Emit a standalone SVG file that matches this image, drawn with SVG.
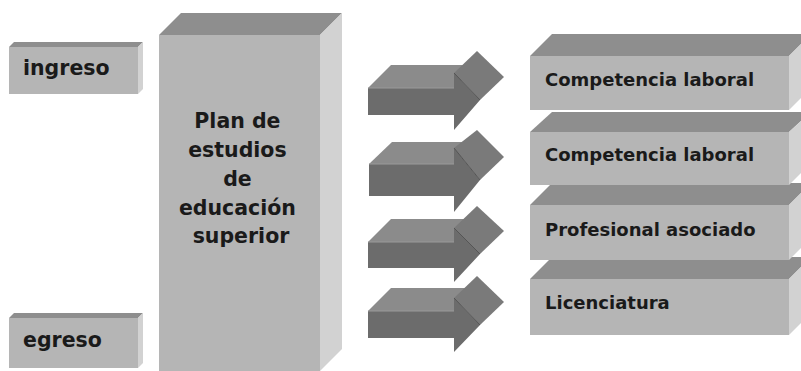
<svg xmlns="http://www.w3.org/2000/svg" width="801" height="371" viewBox="0 0 801 371">
<style>
.front{fill:#b5b5b5}
.top{fill:#8e8e8e}
.side{fill:#d2d2d2}
.afront{fill:#6c6c6c}
.atop{fill:#8b8b8b}
.ahead{fill:#7a7a7a}
.aedge{fill:none;stroke:#555;stroke-width:1}
.hl{fill:none;stroke:#9a9a9a;stroke-width:1.2}
text{font-family:"DejaVu Sans","Liberation Sans",sans-serif;font-weight:bold;fill:#1a1a1a}
.big{font-size:20.5px}
.small{font-size:18px}
</style>
<rect width="801" height="371" fill="#ffffff"/>

<g id="ingreso">
<polygon class="top" points="9,47 14,42 143,42 138,47"/>
<polygon class="side" points="138,47 143,42 143,89 138,94"/>
<rect class="front" x="9" y="47" width="129" height="47"/>
<text class="big" x="23" y="75">ingreso</text>
</g>

<g id="egreso">
<polygon class="top" points="9,318 14,313 143,313 138,318"/>
<polygon class="side" points="138,318 143,313 143,363 138,368"/>
<rect class="front" x="9" y="318" width="129" height="50"/>
<text class="big" x="23" y="347">egreso</text>
</g>

<g id="plan">
<polygon class="top" points="159,35 181,13 342,13 320,35"/>
<polygon class="side" points="320,35 342,13 342,349 320,371"/>
<rect class="front" x="159" y="35" width="161" height="340"/>
<text class="big" text-anchor="middle">
<tspan x="241" y="128">Plan de</tspan>
<tspan x="241" y="157">estudios</tspan>
<tspan x="241" y="186">de</tspan>
<tspan x="241" y="215">educación</tspan>
<tspan x="241" y="243">superior</tspan>
</text>
</g>

<g id="connectors">
<g id="arrow1">
<polygon class="atop" points="368,88 391,65 477,65 454,88"/>
<polygon class="ahead" points="454,73 477,51 504,77 480,100"/>
<polygon class="afront" points="368,88 454,88 454,73 480,100 454,130 454,115 368,115"/>
<line class="hl" x1="368" y1="88" x2="454" y2="88"/>
<line class="aedge" x1="454" y1="73" x2="480" y2="100"/>
</g>
<g id="arrow2">
<polygon class="atop" points="369,164 392,142 477,142 454,164"/>
<polygon class="ahead" points="454,148 477,130 504,157 480,180"/>
<polygon class="afront" points="369,164 454,164 454,148 480,180 454,212 454,196 369,196"/>
<line class="hl" x1="369" y1="164" x2="454" y2="164"/>
<line class="aedge" x1="454" y1="148" x2="480" y2="180"/>
</g>
<g id="arrow3">
<polygon class="atop" points="368,242 391,219 477,219 454,242"/>
<polygon class="ahead" points="454,228 477,206 504,231 480,254"/>
<polygon class="afront" points="368,242 454,242 454,228 480,254 454,282 454,268 368,268"/>
<line class="hl" x1="368" y1="242" x2="454" y2="242"/>
<line class="aedge" x1="454" y1="228" x2="480" y2="254"/>
</g>
<g id="arrow4">
<polygon class="atop" points="368,311 391,288 477,288 454,311"/>
<polygon class="ahead" points="454,298 477,276 504,302 480,325"/>
<polygon class="afront" points="368,311 454,311 454,298 480,325 454,352 454,338 368,338"/>
<line class="hl" x1="368" y1="311" x2="454" y2="311"/>
<line class="aedge" x1="454" y1="298" x2="480" y2="325"/>
</g>
</g>

<g id="licenciatura">
<polygon class="top" points="530,279 552,257 811,257 789,279"/>
<polygon class="side" points="789,279 811,257 811,313 789,335"/>
<rect class="front" x="530" y="279" width="259" height="56"/>
<text class="small" x="545" y="309">Licenciatura</text>
</g>

<g id="profesional">
<polygon class="top" points="530,205 552,183 811,183 789,205"/>
<polygon class="side" points="789,205 811,183 811,238 789,260"/>
<rect class="front" x="530" y="205" width="259" height="55"/>
<text class="small" x="545" y="236">Profesional asociado</text>
</g>

<g id="competencia2">
<polygon class="top" points="530,132 552,112 811,112 789,132"/>
<polygon class="side" points="789,132 811,112 811,163 789,185"/>
<rect class="front" x="530" y="132" width="259" height="53"/>
<text class="small" x="545" y="161">Competencia laboral</text>
</g>

<g id="competencia1">
<polygon class="top" points="530,56 552,34 811,34 789,56"/>
<polygon class="side" points="789,56 811,34 811,88 789,110"/>
<rect class="front" x="530" y="56" width="259" height="54"/>
<text class="small" x="545" y="86">Competencia laboral</text>
</g>
</svg>
